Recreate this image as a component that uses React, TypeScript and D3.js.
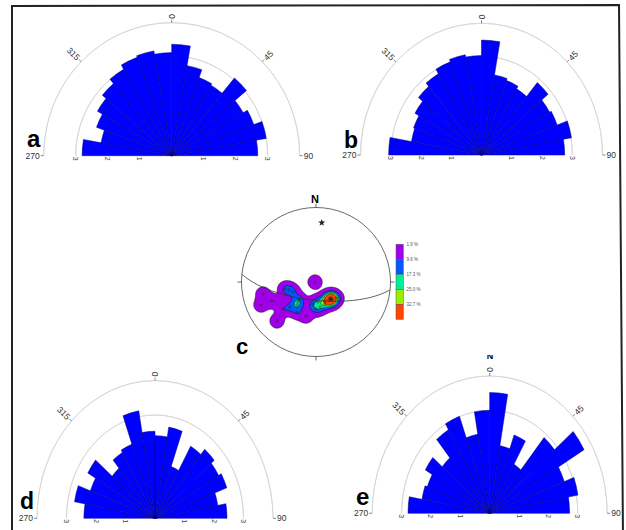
import * as d3 from "d3";

// rose diagrams: 10° bins from 270° clockwise to 90°
const binStarts = d3.range(-90, 90, 10);
const roseA = [2.8, 2.24, 2.5, 2.68, 2.83, 3.0, 3.15, 3.2, 3.1, 3.35, 2.75, 2.5, 2.45, 3.05, 2.58, 2.73, 3.0, 2.69];
const roseB = [3.07, 2.35, 2.39, 2.54, 2.72, 2.85, 3.01, 3.09, 3.02, 3.49, 2.47, 2.41, 2.32, 2.87, 2.6, 2.66, 3.02, 2.75];
const roseD = [2.41, 2.77, 2.33, 2.63, 1.9, 2.21, 2.29, 3.17, 2.53, 2.4, 2.69, 1.6, 2.42, 2.62, 2.49, 2.59, 2.16, 2.44];
const roseE = [2.78, 2.34, 2.26, 2.53, 2.11, 2.81, 3.01, 2.34, 3.0, 3.52, 2.0, 2.43, 1.65, 2.88, 3.71, 2.7, 3.05, 2.72];
const azLabels = [270, 315, 0, 45, 90];
const ringTicks = [1, 2, 3];
const gridRings = [3, 4];

// stereonet (net units, primitive radius = 1, x east, y north)
const poleX = [-0.711, -0.591, -0.738, -0.416, -0.362, -0.309, -0.228, -0.242, -0.255, -0.349, -0.255, -0.443,
  -0.04, 0.027, 0.054, 0.121, -0.523, -0.013, -0.134, 0.0, 0.121, 0.268,
  0.188, 0.201, 0.215, 0.174, 0.201, 0.188, 0.215, 0.201];
const poleY = [-0.161, -0.255, -0.309, -0.094, -0.107, -0.134, -0.241, -0.268, -0.309, -0.336, -0.403, -0.362,
  -0.295, -0.268, -0.336, -0.295, -0.523, 0.0, -0.456, -0.362, -0.255, -0.215,
  -0.228, -0.215, -0.242, -0.242, -0.228, -0.215, -0.228, -0.242];
const starX = 0.077;
const starY = 0.796;
const planeDipDir = 186;
const planeDip = 70;
const levelPct = [1.9, 9.6, 17.3, 25.0, 32.7];
const levelLabels = ["1.9 %", "9.6 %", "17.3 %", "25.0 %", "32.7 %"];
const levelColors = ["#a000e8", "#0058ff", "#00ee99", "#99ee00", "#ff4400"];

const FONT = "Liberation Sans, Arial, sans-serif";
const rad = (d: number) => (d * Math.PI) / 180;

type Layout = { cx: number; cy: number; rx: number; ry: number };

function Rose({ values, layout, letter, lx, ly, lsize }: { values: number[]; layout: Layout; letter: string; lx: number; ly: number; lsize: number }) {
  const { cx, cy, rx, ry } = layout;
  const r = d3.scaleLinear().domain([0, 4]).range([0, 100]);
  const sx = rx / 100, sy = ry / 100;
  const arc = d3.arc<any>();
  const pos = (az: number, v: number, extra = 0): [number, number] => [
    cx + Math.sin(rad(az)) * (r(v) * sx + extra),
    cy - Math.cos(rad(az)) * (r(v) * sy + extra),
  ];
  return (
    <g>
      <g transform={`translate(${cx},${cy}) scale(${sx},${sy})`}>
        {gridRings.map(g => (
          <path key={g} d={arc({ innerRadius: r(g), outerRadius: r(g), startAngle: -Math.PI / 2, endAngle: Math.PI / 2 }) || ""}
            fill="none" stroke="#d4d4d4" strokeWidth={0.8} vectorEffect="non-scaling-stroke" />
        ))}
        {values.map((v, i) => (
          <path key={i} d={arc({ innerRadius: 0, outerRadius: r(v), startAngle: rad(binStarts[i]), endAngle: rad(binStarts[i] + 10) }) || ""}
            fill="#0000ff" stroke="#00007a" strokeWidth={0.5} vectorEffect="non-scaling-stroke" />
        ))}
      </g>
      {azLabels.map(az => {
        const [x1, y1] = pos(az, 4);
        const [x2, y2] = pos(az, 4, 3);
        const [tx, ty] = pos(az, 4, 4);
        const east = az <= 90;
        const rot = east ? az - 90 : az - 270;
        return (
          <g key={az}>
            <line x1={x1} y1={y1} x2={x2} y2={y2} stroke="#555" strokeWidth={0.7} />
            <text transform={`translate(${tx},${ty}) rotate(${rot})`} textAnchor={east ? "start" : "end"} dominantBaseline="central"
              fontSize={8.5} fill="#333" fontFamily={FONT}>{az}</text>
          </g>
        );
      })}
      {ringTicks.flatMap(t => [270, 90].map(az => {
        const [x] = pos(az, t);
        return (
          <text key={`${t}-${az}`} transform={`translate(${x},${cy + 1}) rotate(90)`} textAnchor="start" dominantBaseline="central"
            fontSize={7} fill="#444" fontFamily={FONT}>{t}</text>
        );
      }))}
      <text x={lx} y={ly} fontSize={lsize} fontWeight="bold" fontFamily={FONT} fill="#000">{letter}</text>
    </g>
  );
}

function Stereonet() {
  const cx = 316, cy = 282, R = 74.5;
  const px = d3.scaleLinear().domain([-1, 1]).range([cx - R, cx + R]);
  const py = d3.scaleLinear().domain([-1, 1]).range([cy + R, cy - R]);
  const pts = poleX.map((x, i) => [px(x), py(poleY[i])]);

  // density grid (gaussian kernel, px units)
  const gx0 = 240, gy0 = 206, gw = 152, gh = 152, sigma = 4.5;
  const grid = new Float64Array(gw * gh);
  for (let j = 0; j < gh; j++) {
    for (let i = 0; i < gw; i++) {
      const x = gx0 + i + 0.5, y = gy0 + j + 0.5;
      let s = 0;
      for (const [qx, qy] of pts) {
        const d2 = (x - qx) ** 2 + (y - qy) ** 2;
        s += Math.exp(-d2 / (2 * sigma * sigma));
      }
      grid[j * gw + i] = s;
    }
  }
  const perPct = 0.278 / 1.9;
  const contours = d3.contours().size([gw, gh]).thresholds(levelPct.map(p => p * perPct))(Array.from(grid));
  const geo = d3.geoPath();

  // great circle, equal-area lower hemisphere
  const strike = planeDipDir - 90;
  const gc = d3.range(0, 181, 2).map(t => {
    const tr = rad(t);
    const e = Math.sin(rad(strike)) * Math.cos(tr) + Math.sin(rad(planeDipDir)) * Math.cos(rad(planeDip)) * Math.sin(tr);
    const n = Math.cos(rad(strike)) * Math.cos(tr) + Math.cos(rad(planeDipDir)) * Math.cos(rad(planeDip)) * Math.sin(tr);
    const down = Math.sin(rad(planeDip)) * Math.sin(tr);
    const plunge = Math.asin(Math.min(1, down));
    const trend = Math.atan2(e, n);
    const rr = Math.SQRT2 * Math.sin((Math.PI / 2 - plunge) / 2);
    return [px(rr * Math.sin(trend)), py(rr * Math.cos(trend))] as [number, number];
  });
  const line = d3.line();

  const cb = d3.scaleBand<number>().domain(d3.range(levelPct.length)).range([244.3, 319.3]);
  const star = d3.symbol(d3.symbolStar, 16)();

  return (
    <g>
      <defs>
        <clipPath id="netclip"><circle cx={cx} cy={cy} r={R} /></clipPath>
      </defs>
      <g clipPath="url(#netclip)">
        <g transform={`translate(${gx0},${gy0})`}>
          {contours.map((c, i) => (
            <path key={i} d={geo(c as any) || ""} fill={levelColors[i]} stroke="#111" strokeWidth={0.5} />
          ))}
        </g>
        <path d={line(gc) || ""} fill="none" stroke="#333" strokeWidth={0.8} />
        {pts.map(([x, y], i) => (
          <circle key={i} cx={x} cy={y} r={1.2} fill="none" stroke="#3a2020" strokeWidth={0.5} />
        ))}
      </g>
      <circle cx={cx} cy={cy} r={R} fill="none" stroke="#444" strokeWidth={0.8} />
      {[0, 90, 180, 270].map(az => (
        <line key={az} x1={cx + Math.sin(rad(az)) * R} y1={cy - Math.cos(rad(az)) * R}
          x2={cx + Math.sin(rad(az)) * (R + 4)} y2={cy - Math.cos(rad(az)) * (R + 4)} stroke="#444" strokeWidth={0.8} />
      ))}
      <text x={cx - 1} y={203} textAnchor="middle" fontSize={11} fontWeight="bold" fontFamily={FONT}>N</text>
      <path d={star || ""} transform={`translate(${px(starX)},${py(starY)})`} fill="#2a1a1a" />
      {levelPct.map((p, i) => (
        <g key={p}>
          <rect x={396} y={cb(i)} width={7.3} height={cb.bandwidth()} fill={levelColors[i]} stroke="#555" strokeWidth={0.5} />
          <text x={406.5} y={(cb(i) || 0) + 0.5} fontSize={4.5} fill="#555" dominantBaseline="central" fontFamily={FONT}>{levelLabels[i]}</text>
        </g>
      ))}
      <text x={236} y={353.5} fontSize={22} fontWeight="bold" fontFamily={FONT}>c</text>
    </g>
  );
}

export default function App() {
  return (
    <svg width={626} height={530} style={{ position: "absolute", left: 0, top: 0, background: "#fff" }}>
      <defs>
        <clipPath id="eclip"><rect x={300} y={355} width={320} height={10} /></clipPath>
      </defs>
      <Rose values={roseA} layout={{ cx: 171.7, cy: 155.7, rx: 128, ry: 133 }} letter="a" lx={27} ly={147} lsize={24} />
      <Rose values={roseB} layout={{ cx: 481.5, cy: 155, rx: 121, ry: 131.7 }} letter="b" lx={344} ly={148} lsize={23} />
      <Stereonet />
      <Rose values={roseD} layout={{ cx: 155, cy: 518.3, rx: 118, ry: 137.7 }} letter="d" lx={20} ly={508.5} lsize={23} />
      <Rose values={roseE} layout={{ cx: 489.7, cy: 513.3, rx: 117.5, ry: 137.3 }} letter="e" lx={356} ly={505} lsize={24} />
      <text x={490} y={358.5} textAnchor="middle" fontSize={9} fontWeight="bold" fontFamily={FONT} clipPath="url(#eclip)">N</text>
      <polyline points="12,540 12,6 619,5 623,540" fill="none" stroke="#222" strokeWidth={2} />
    </svg>
  );
}
